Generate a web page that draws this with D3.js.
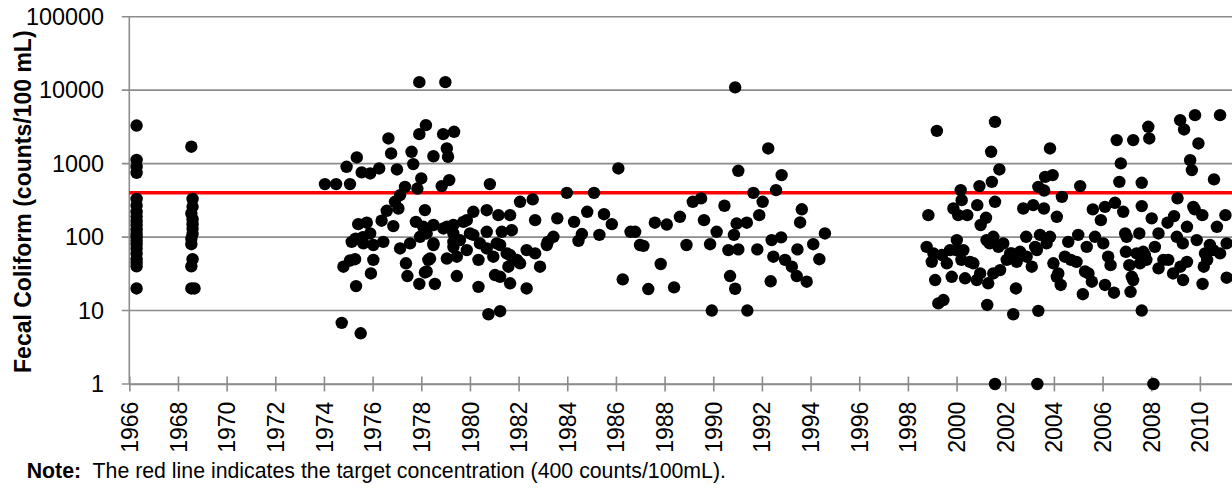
<!DOCTYPE html>
<html>
<head>
<meta charset="utf-8">
<script src="https://cdn.jsdelivr.net/npm/d3@7"></script>
<style>
  body { margin: 0; background: #fff; }
  svg { display: block; font-family: "Liberation Sans", Arial, sans-serif; }
</style>
</head>
<body>
<svg id="chart"></svg>
<script>
// sample date (decimal year) and fecal coliform (counts/100 mL)
const samples1960s = [
  [1966.3, 3300], [1966.3, 1120], [1966.3, 900], [1966.3, 750], [1966.3, 330], [1966.3, 270],
  [1966.3, 220], [1966.3, 190], [1966.3, 165], [1966.3, 145], [1966.3, 125], [1966.3, 110],
  [1966.3, 100], [1966.3, 90], [1966.3, 80], [1966.3, 70], [1966.3, 60], [1966.3, 50],
  [1966.3, 45], [1966.3, 40], [1966.3, 20],
  [1968.55, 1700], [1968.6, 330], [1968.6, 260], [1968.55, 210], [1968.6, 175], [1968.6, 150],
  [1968.6, 130], [1968.6, 110], [1968.55, 95], [1968.55, 80], [1968.6, 50], [1968.55, 40],
  [1968.55, 20], [1968.68, 20]
];

const samples1970s = [
  [1974.04, 526], [1974.5, 526], [1975.07, 526], [1974.93, 905], [1975.35, 1213], [1975.55, 760],
  [1975.9, 735], [1976.27, 860], [1976.65, 2200], [1976.76, 1376], [1977.0, 833], [1977.6, 1450],
  [1977.67, 985], [1977.92, 2520], [1978.19, 3340], [1978.0, 629], [1977.84, 458], [1978.5, 1260],
  [1978.9, 2520], [1979.35, 2710], [1979.05, 1610], [1979.1, 1240], [1978.84, 494], [1979.15, 597],
  [1977.92, 12850], [1978.99, 12850],
  [1977.33, 483], [1977.13, 373], [1976.92, 302], [1977.06, 245], [1976.58, 228], [1976.37, 167],
  [1976.85, 141],
  [1975.41, 150], [1975.76, 157], [1975.9, 112], [1975.14, 86], [1975.62, 82], [1976.03, 78],
  [1976.44, 86], [1975.28, 50], [1974.8, 39.5], [1976.03, 49], [1975.93, 32], [1975.32, 21.5],
  [1974.73, 6.8], [1975.51, 4.9], [1975.07, 48], [1975.3, 95], [1975.6, 100],
  [1977.13, 70], [1977.54, 82], [1977.37, 44], [1977.43, 29.5], [1977.92, 23], [1978.56, 23],
  [1979.46, 29.5], [1978.15, 33], [1978.29, 49], [1979.05, 51], [1979.46, 54],
  [1978.15, 233], [1977.78, 161], [1978.08, 138], [1978.22, 112], [1978.5, 82], [1977.95, 101],
  [1979.05, 138], [1979.32, 112], [1979.59, 91], [1979.87, 170], [1979.32, 73],
  [1978.5, 146], [1978.91, 131], [1979.32, 146], [1979.73, 161], [1979.32, 86], [1978.5, 78],
  [1978.15, 118], [1978.36, 51], [1978.22, 34]
];

const samples1980s = [
  [1980.14, 221], [1980.69, 232], [1981.17, 199], [1981.65, 199], [1981.72, 124], [1981.31, 118],
  [1980.69, 118], [1980.0, 112], [1980.41, 82], [1981.1, 82], [1979.87, 66.5], [1980.35, 49],
  [1980.96, 54], [1981.51, 60], [1982.06, 44], [1981.03, 30.4],
  [1980.82, 526], [1986.1, 860], [1982.06, 302], [1982.58, 326], [1983.98, 400], [1985.1, 400],
  [1982.68, 170], [1983.59, 180], [1984.28, 161], [1984.82, 221], [1985.51, 205], [1985.83, 150],
  [1985.32, 107], [1984.6, 110], [1984.46, 89], [1986.6, 118], [1986.99, 78], [1986.28, 26.6],
  [1983.43, 101], [1983.16, 78], [1982.88, 39.5], [1982.33, 66.5], [1982.68, 60], [1982.33, 20],
  [1981.65, 23.5], [1981.78, 49], [1981.24, 28.8], [1980.35, 21], [1980.76, 8.9], [1981.24, 9.8],
  [1980.14, 107], [1980.69, 70], [1981.24, 78], [1981.65, 57], [1981.93, 49], [1981.58, 39.5],
  [1983.2, 86],
  [1986.79, 118], [1987.13, 76], [1987.6, 157], [1988.09, 148], [1988.63, 189], [1988.9, 78],
  [1987.84, 43], [1987.33, 19.6], [1988.39, 20.7], [1989.16, 302], [1989.5, 336], [1989.62, 170],
  [1989.87, 80], [1989.94, 10]
];

const samples1990s = [
  [1990.9, 10900], [1992.26, 1610], [1991.03, 798], [1992.81, 698], [1992.58, 436], [1991.65, 400],
  [1992.03, 302], [1990.46, 267], [1990.14, 118], [1991.4, 10], [1990.69, 29.5], [1990.9, 19.8],
  [1990.96, 153], [1991.38, 157], [1990.85, 107], [1990.62, 66.5], [1991.03, 68], [1991.89, 199],
  [1991.81, 68], [1992.4, 91], [1992.79, 99], [1992.47, 54], [1992.95, 49], [1993.23, 39.5],
  [1993.43, 29.5], [1993.84, 24.7], [1992.36, 25], [1993.46, 68], [1993.64, 239], [1993.57, 158],
  [1994.11, 80], [1994.36, 50], [1994.59, 112],
  [1999.19, 2790], [1998.84, 199], [1999.87, 245], [1998.77, 73.5], [1998.98, 46], [1999.12, 26],
  [1999.25, 12.5], [1999.46, 13.9], [1999.73, 66.5], [1999.8, 28.8], [1999.6, 44], [1999.05, 60],
  [1999.4, 57]
];

const samples2000s = [
  [2001.58, 3700], [2001.42, 1450], [2001.76, 833], [2003.84, 1610], [2001.45, 565], [2000.94, 494],
  [2000.17, 436], [2001.58, 302], [2000.85, 272], [2000.44, 199], [2000.07, 199], [2001.21, 183],
  [2000.99, 146], [2002.74, 245], [2003.15, 272], [2003.59, 245], [2003.36, 483], [2003.64, 660],
  [2003.95, 698], [2003.6, 430], [2002.86, 101], [2003.43, 107], [2003.7, 82], [2000.01, 91],
  [2000.28, 66.5], [2000.69, 44], [2000.35, 27.5], [2000.83, 26], [2001.3, 23.5], [2001.51, 32],
  [2001.23, 91], [2001.51, 101], [2001.92, 82], [2002.06, 49], [2001.79, 35.5], [2002.27, 60],
  [2002.61, 63], [2003.09, 39.5], [2003.23, 73.5], [2002.44, 20], [2001.26, 11.9], [2002.33, 8.9],
  [2003.36, 9.9], [2001.58, 1.0], [2003.32, 1.0], [2003.98, 44], [2004.12, 28.8], [2004.12, 189],
  [2000.0, 66], [2000.2, 49], [2000.55, 46], [2000.97, 32], [2001.36, 82], [2001.72, 73.5],
  [2002.2, 60], [2002.47, 46], [2002.88, 54], [2003.3, 66.5], [2003.84, 101], [2000.21, 318],
  [2005.08, 494], [2004.33, 353], [2006.58, 2090], [2007.26, 2090], [2007.88, 3170], [2007.92, 2200],
  [2009.19, 3900], [2009.35, 2920], [2009.8, 4570], [2010.83, 4570], [2009.94, 1880], [2009.6, 1115],
  [2009.67, 816], [2006.75, 1007], [2006.69, 565], [2007.61, 548], [2010.58, 610], [2009.08, 336],
  [2007.61, 264], [2008.02, 180], [2006.51, 293], [2006.85, 221], [2006.1, 258], [2005.6, 238],
  [2005.93, 170], [2008.67, 157], [2008.94, 193], [2009.79, 238], [2010.1, 199], [2011.05, 199],
  [2010.7, 138], [2009.47, 138], [2008.3, 112], [2007.51, 112], [2006.99, 101], [2005.69, 101],
  [2005.0, 107], [2004.59, 86], [2005.35, 73.5], [2006.03, 82], [2006.96, 63], [2007.67, 63],
  [2008.15, 73.5], [2009.05, 101], [2009.87, 91], [2010.41, 78], [2011.1, 82], [2010.83, 60],
  [2010.21, 60], [2004.45, 54], [2004.93, 46], [2004.18, 32], [2004.28, 22.3], [2005.42, 32],
  [2005.56, 24.7], [2005.19, 16.7], [2006.23, 54], [2006.33, 41.5], [2006.1, 22.3], [2006.47, 17.5],
  [2007.1, 41.5], [2007.26, 26], [2007.15, 18], [2007.54, 44], [2007.74, 57], [2008.3, 37.5],
  [2008.7, 49], [2008.9, 32], [2009.31, 26], [2009.47, 46], [2010.16, 39.5], [2010.11, 23],
  [2011.1, 28], [2007.61, 10], [2008.09, 1.0],
  [2006.93, 112], [2009.3, 82], [2009.73, 258], [2007.4, 60], [2007.2, 28.8], [2007.8, 49],
  [2008.5, 49], [2009.2, 39.5], [2004.7, 49], [2005.28, 34], [2010.3, 49], [2010.55, 66.5]
];

const yearTicks = d3.range(1966, 2011, 2);
const valueTicks = [1, 10, 100, 1000, 10000, 100000];
const targetValue = 400;
const yTitle = "Fecal Coliform (counts/100 mL)";
const noteLabel = "Note:";
const noteText = "  The red line indicates the target concentration (400 counts/100mL).";

const width = 1232, height = 488;
const plot = { left: 129.3, right: 1232, top: 16.7, bottom: 384 };
const gridColor = "#8c8c8c";

const svg = d3.select("#chart").attr("width", width).attr("height", height);

const x = d3.scaleLinear().domain([1966, 2011.32]).range([plot.left, plot.right]);
const y = d3.scaleLog().domain([1, 100000]).range([plot.bottom, plot.top]);

// horizontal gridlines + left ticks
svg.append("g").selectAll("line").data(valueTicks).join("line")
  .attr("x1", plot.left - 7.5).attr("x2", plot.right)
  .attr("y1", d => y(d)).attr("y2", d => y(d))
  .attr("stroke", gridColor).attr("stroke-width", 1.6);

// y axis line
svg.append("line")
  .attr("x1", plot.left).attr("x2", plot.left)
  .attr("y1", plot.top).attr("y2", plot.bottom)
  .attr("stroke", gridColor).attr("stroke-width", 1.6);

// y tick labels
svg.append("g").selectAll("text").data(valueTicks).join("text")
  .attr("x", 104).attr("y", d => y(d)).attr("dy", "0.35em")
  .attr("text-anchor", "end").attr("font-size", 23.4).attr("fill", "#000")
  .text(d => d);

// x axis
const xAxis = svg.append("g")
  .attr("transform", `translate(0,${plot.bottom})`)
  .call(d3.axisBottom(x).tickValues(yearTicks).tickSizeInner(7.5).tickSizeOuter(0).tickFormat(d3.format("d")));
xAxis.select(".domain").attr("stroke", gridColor).attr("stroke-width", 1.6);
xAxis.selectAll(".tick line").attr("y1", -7.5).attr("y2", 7.5)
  .attr("stroke", gridColor).attr("stroke-width", 1.6);
xAxis.selectAll(".tick text")
  .attr("font-size", 23).attr("font-family", "Liberation Sans, Arial, sans-serif").attr("fill", "#000")
  .attr("text-anchor", "end")
  .attr("transform", "rotate(-90)")
  .attr("x", -17.7).attr("y", 0).attr("dy", "0.35em");

// target line
svg.append("line")
  .attr("x1", plot.left).attr("x2", plot.right)
  .attr("y1", y(targetValue)).attr("y2", y(targetValue))
  .attr("stroke", "#ff0000").attr("stroke-width", 3.5);

// sample points
const allSamples = [...samples1960s, ...samples1970s, ...samples1980s, ...samples1990s, ...samples2000s];
svg.append("g").selectAll("circle").data(allSamples).join("circle")
  .attr("cx", d => x(d[0])).attr("cy", d => y(d[1]))
  .attr("r", 6.2).attr("fill", "#000");

// y title
svg.append("text")
  .attr("transform", `translate(31,201.7) rotate(-90)`)
  .attr("text-anchor", "middle").attr("font-size", 23).attr("font-weight", "bold")
  .text(yTitle);

// note
const note = svg.append("text")
  .attr("x", 26.7).attr("y", 478.3).attr("font-size", 21.3)
  .style("white-space", "pre");
note.append("tspan").attr("font-weight", "bold").text(noteLabel);
note.append("tspan").text(noteText);
</script>
</body>
</html>
